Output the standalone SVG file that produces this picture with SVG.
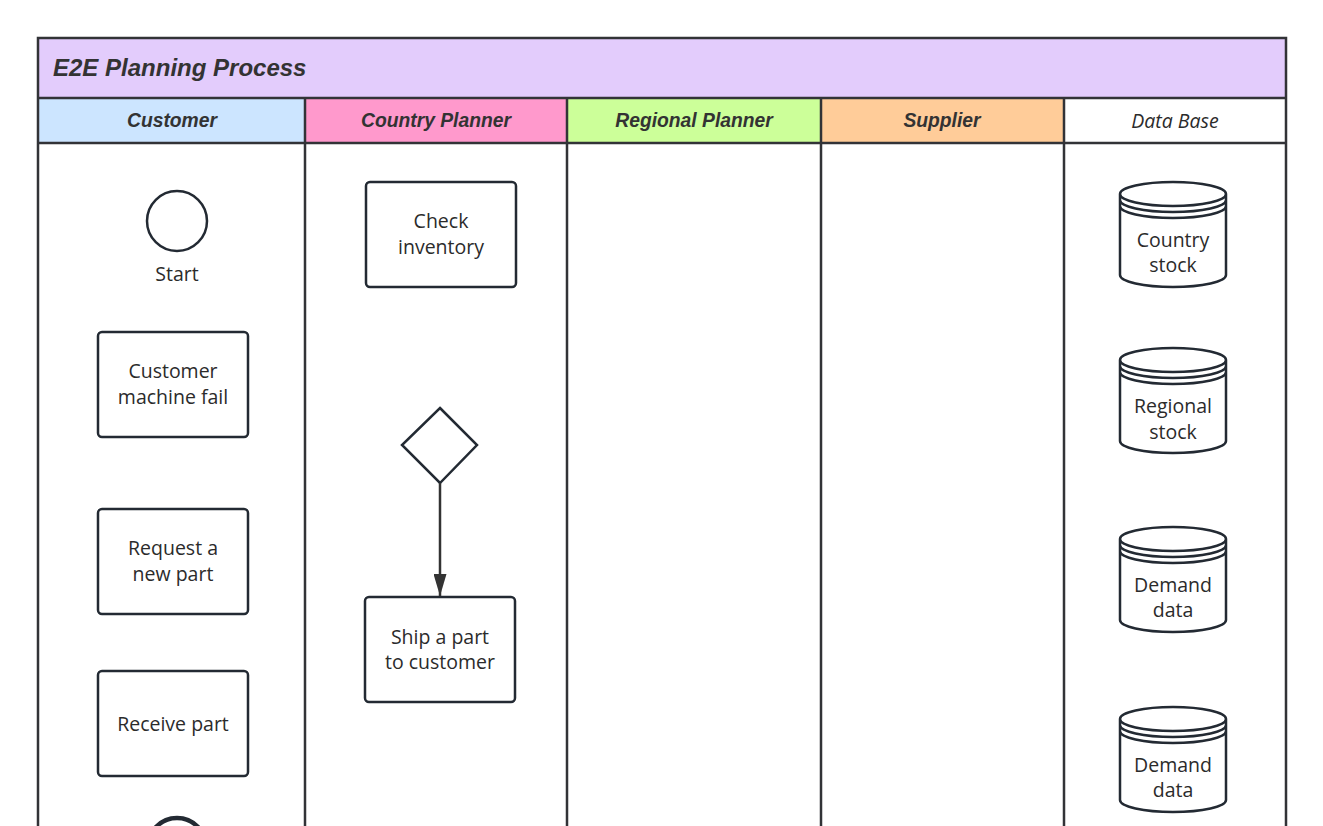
<svg xmlns="http://www.w3.org/2000/svg" width="1323" height="826" viewBox="0 0 1323 826">
<defs>
<style>
.ln{fill:none;stroke:#323337;stroke-width:2.5}
.box{fill:#fff;stroke:#232a33;stroke-width:2.5}
.t{font-family:"Open Sans","Noto Sans",sans-serif;font-size:19.5px;fill:#2b2b2b;text-anchor:middle}
.h{font-family:"Liberation Sans",Arial,sans-serif;font-weight:bold;font-style:italic;font-size:19.3px;fill:#333;text-anchor:middle}
.ti{font-family:"Liberation Sans",Arial,sans-serif;font-weight:bold;font-style:italic;font-size:24px;fill:#333}
</style>
<marker id="ah" viewBox="0 0 22 13" refX="22" refY="6.5" markerWidth="22" markerHeight="13" markerUnits="userSpaceOnUse" orient="auto">
<path d="M0,0 L22,6.5 L0,13 z" fill="#333"/>
</marker>
</defs>
<rect width="1323" height="826" fill="#fff"/>
<g id="pool">
<rect x="38" y="38" width="1248" height="60" fill="#e3ccfc"/>
<rect x="38" y="98" width="267" height="45" fill="#cce5ff"/>
<rect x="305" y="98" width="262" height="45" fill="#ff99cc"/>
<rect x="567" y="98" width="254" height="45" fill="#ccff99"/>
<rect x="821" y="98" width="243" height="45" fill="#ffcc99"/>
<rect x="1064" y="98" width="222" height="45" fill="#fff"/>
<path class="ln" d="M38,830 V38 H1286 V830 M38,98 H1286 M38,143 H1286 M305,98 V830 M567,98 V830 M821,98 V830 M1064,98 V830"/>
<text class="ti" x="53" y="76">E2E Planning Process</text>
<text class="h" x="172" y="127">Customer</text>
<text class="h" x="436" y="127">Country Planner</text>
<text class="h" x="694" y="127">Regional Planner</text>
<text class="h" x="942" y="127">Supplier</text>
<text class="t" x="1175" y="128" style="font-style:italic">Data Base</text>
</g>
<g id="start"><circle class="box" cx="177" cy="221" r="30"/><text class="t" x="177" y="281">Start</text></g>
<g id="machine-fail"><rect class="box" x="98" y="332" width="150" height="105" rx="4"/><text class="t" x="173" y="378">Customer</text><text class="t" x="173" y="404">machine fail</text></g>
<g id="request"><rect class="box" x="98" y="509" width="150" height="105" rx="4"/><text class="t" x="173" y="555">Request a</text><text class="t" x="173" y="581">new part</text></g>
<g id="receive"><rect class="box" x="98" y="671" width="150" height="105" rx="4"/><text class="t" x="173" y="731">Receive part</text></g>
<g id="end"><circle cx="177" cy="847" r="29" fill="#fff" stroke="#232a33" stroke-width="4.5"/></g>
<g id="check"><rect class="box" x="366" y="182" width="150" height="105" rx="4"/><text class="t" x="441" y="228">Check</text><text class="t" x="441" y="254">inventory</text></g>
<g id="decision"><path class="box" d="M440,408 L477,445 L440,483 L402,445 z"/></g>
<g id="ship"><rect class="box" x="365" y="597" width="150" height="105" rx="4"/><text class="t" x="440" y="644">Ship a part</text><text class="t" x="440" y="669">to customer</text></g>
<g id="country-stock"><path class="box" d="M1120,194 V275 A53,12 0 0 0 1226,275 V194 A53,12 0 0 0 1120,194 A53,12 0 0 0 1226,194 M1120,200 A53,12 0 0 0 1226,200 M1120,206 A53,12 0 0 0 1226,206"/><text class="t" x="1173" y="247">Country</text><text class="t" x="1173" y="272">stock</text></g>
<g id="regional-stock"><path class="box" d="M1120,360 V441 A53,12 0 0 0 1226,441 V360 A53,12 0 0 0 1120,360 A53,12 0 0 0 1226,360 M1120,366 A53,12 0 0 0 1226,366 M1120,372 A53,12 0 0 0 1226,372"/><text class="t" x="1173" y="413">Regional</text><text class="t" x="1173" y="439">stock</text></g>
<g id="demand-data-1"><path class="box" d="M1120,539 V620 A53,12 0 0 0 1226,620 V539 A53,12 0 0 0 1120,539 A53,12 0 0 0 1226,539 M1120,545 A53,12 0 0 0 1226,545 M1120,551 A53,12 0 0 0 1226,551"/><text class="t" x="1173" y="592">Demand</text><text class="t" x="1173" y="617">data</text></g>
<g id="demand-data-2"><path class="box" d="M1120,719 V800 A53,12 0 0 0 1226,800 V719 A53,12 0 0 0 1120,719 A53,12 0 0 0 1226,719 M1120,725 A53,12 0 0 0 1226,725 M1120,731 A53,12 0 0 0 1226,731"/><text class="t" x="1173" y="772">Demand</text><text class="t" x="1173" y="797">data</text></g>
<g id="connectors"><path d="M440,483 V596" fill="none" stroke="#333" stroke-width="2.5" marker-end="url(#ah)"/></g>
</svg>
